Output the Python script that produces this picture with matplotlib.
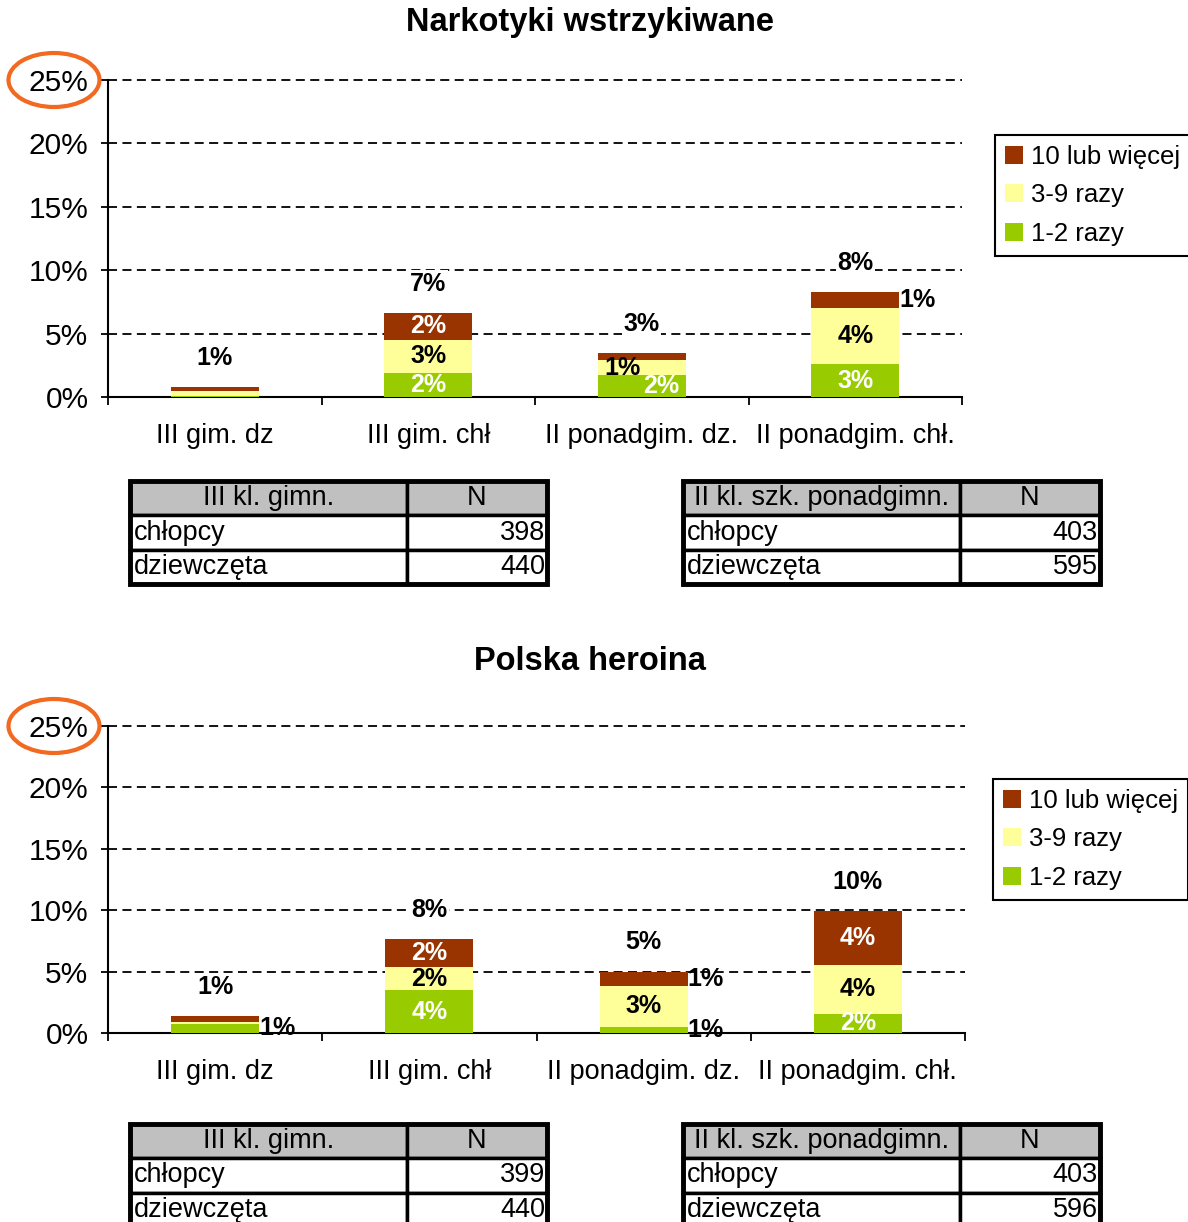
import math
import matplotlib
matplotlib.use('Agg')
import matplotlib.pyplot as plt
from matplotlib.patches import Ellipse, Rectangle

plt.rcParams['font.family'] = ['Liberation Sans', 'DejaVu Sans']

W, H = 1188, 1222

# dane
categories = ['III gim. dz', 'III gim. chł', 'II ponadgim. dz.', 'II ponadgim. chł.']
names = ['1-2 razy', '3-9 razy', '10 lub więcej']
colors = ['#99CC00', '#FFFF99', '#993300']

# Narkotyki wstrzykiwane (%)
inj_1_2 = [0.1, 1.9, 1.7, 2.6]
inj_3_9 = [0.35, 2.6, 1.25, 4.4]
inj_10 = [0.35, 2.15, 0.5, 1.3]

# Polska heroina (%)
her_1_2 = [0.75, 3.5, 0.5, 1.55]
her_3_9 = [0.15, 1.85, 3.35, 4.0]
her_10 = [0.5, 2.3, 1.15, 4.35]

# tabelki N
gim_head = ['III kl. gimn.', 'N']
pon_head = ['II kl. szk. ponadgimn.', 'N']
groups = ['chłopcy', 'dziewczęta']
n_gim_inj = [398, 440]
n_pon_inj = [403, 595]
n_gim_her = [399, 440]
n_pon_her = [403, 596]

# gdzie stoja etykiety segmentow: None = brak, 'in' = w srodku, liczba = przesuniecie, 'r' = z prawej
modes_inj = [[None, 'in', 14, 'in'],
             [None, 'in', -14, 'in'],
             [None, 'in', None, 'r']]
modes_her = [['r', 'in', 'r', 'in'],
             [None, 'in', 'in', 'in'],
             [None, 'in', 'r', 'in']]

lab_font = dict(fontsize=18, fontweight='bold')


def px_axes(fig, l, t, r, b):
    return fig.add_axes([l / W, 1 - b / H, (r - l) / W, (b - t) / H])


def pct(v):
    return '%d%%' % math.floor(v + 0.5)


def draw_chart(fig, box, title, title_y, series, modes, legend_xy):
    ax = px_axes(fig, *box)
    x = list(range(len(categories)))
    bottom = [0] * len(x)
    for vals, col, name, mm in zip(series, colors, names, modes):
        bars = ax.bar(x, vals, width=0.41, bottom=bottom, color=col, label=name, zorder=3)
        tcol = 'black' if col == '#FFFF99' else 'white'
        for rect, v, m in zip(bars, vals, mm):
            cy = rect.get_y() + rect.get_height() / 2
            if m is None:
                continue
            if m == 'r':
                ax.annotate(pct(v), (rect.get_x() + rect.get_width(), cy), xytext=(0, 0),
                            textcoords='offset points', ha='left', va='center',
                            color='black', zorder=5, **lab_font)
            else:
                dx = 0 if m == 'in' else m
                ax.annotate(pct(v), (rect.get_x() + rect.get_width() / 2, cy), xytext=(dx, 0),
                            textcoords='offset points', ha='center', va='center',
                            color=tcol, zorder=5, **lab_font)
        bottom = [b + v for b, v in zip(bottom, vals)]

    for i, tot in enumerate(bottom):
        ax.annotate(pct(tot), (i, tot), xytext=(0, 21), textcoords='offset points',
                    ha='center', va='center', zorder=6,
                    bbox=dict(fc='white', ec='none', pad=1), **lab_font)

    ax.set_xlim(-0.5, len(x) - 0.5)
    ax.set_ylim(0, 25)
    yt = [0, 5, 10, 15, 20, 25]
    for y in yt[1:]:
        ax.axhline(y, color='black', lw=1.3, dashes=(5, 3), clip_on=False, zorder=1)
    ax.set_yticks(yt, ['%d%%' % y for y in yt], fontsize=21.5)
    ax.set_xticks(x, categories, fontsize=19.5)
    ax.set_xticks([i - 0.5 for i in range(len(x) + 1)], minor=True)
    ax.tick_params(axis='x', which='major', length=0, pad=19)
    ax.tick_params(axis='x', which='minor', length=6, width=1.3, direction='out')
    ax.tick_params(axis='y', length=5, width=1.3, direction='out', pad=9)
    for s in ['top', 'right']:
        ax.spines[s].set_visible(False)
    for s in ['left', 'bottom']:
        ax.spines[s].set_linewidth(1.5)

    fig.text(590 / W, 1 - title_y / H, title, ha='center', va='center',
             fontsize=23.5, fontweight='bold')

    h, l = ax.get_legend_handles_labels()
    leg = fig.legend(h[::-1], l[::-1], loc='upper left',
                     bbox_to_anchor=(legend_xy[0] / W, 1 - legend_xy[1] / H),
                     frameon=True, fancybox=False, edgecolor='black', framealpha=1,
                     fontsize=18.5, handlelength=0.7, handleheight=0.7,
                     handletextpad=0.3, labelspacing=0.55, borderpad=0.4, borderaxespad=0)
    leg.get_frame().set_linewidth(1.5)

    # kolko wokol 25%
    fig.add_artist(Ellipse((54 / W, 1 - box[1] / H), 91 / W, 54 / H, transform=fig.transFigure,
                           fill=False, ec='#F26A21', lw=3))
    return ax


def draw_table(fig, box, head, vals):
    ax = px_axes(fig, *box)
    ax.axis('off')
    rows = [[g, str(v)] for g, v in zip(groups, vals)]
    tb = ax.table(cellText=rows, colLabels=head, bbox=[0, 0, 1, 1], colWidths=[0.664, 0.336])
    tb.auto_set_font_size(False)
    tb.set_fontsize(19.5)
    for (r, c), cell in tb.get_celld().items():
        cell.set_linewidth(2.5)
        cell.PAD = 0.015
        if r == 0:
            cell.set_facecolor('#C0C0C0')
            cell.get_text().set_ha('center')
        elif c == 0:
            cell.get_text().set_ha('left')
        else:
            cell.get_text().set_ha('right')
    ax.add_patch(Rectangle((0, 0), 1, 1, transform=ax.transAxes, fill=False, lw=3.5,
                           ec='black', clip_on=False, zorder=5))


fig = plt.figure(figsize=(W / 100, H / 100), dpi=100)

draw_chart(fig, (108, 80, 962, 397), 'Narkotyki wstrzykiwane', 22,
           [inj_1_2, inj_3_9, inj_10], modes_inj, (995, 135))
draw_table(fig, (130, 481, 547, 584), gim_head, n_gim_inj)
draw_table(fig, (683, 481, 1100, 584), pon_head, n_pon_inj)

draw_chart(fig, (108, 726, 965, 1033), 'Polska heroina', 662,
           [her_1_2, her_3_9, her_10], modes_her, (993, 779))
draw_table(fig, (130, 1124, 547, 1227), gim_head, n_gim_her)
draw_table(fig, (683, 1124, 1100, 1227), pon_head, n_pon_her)

fig.savefig('out.png', dpi=100)
